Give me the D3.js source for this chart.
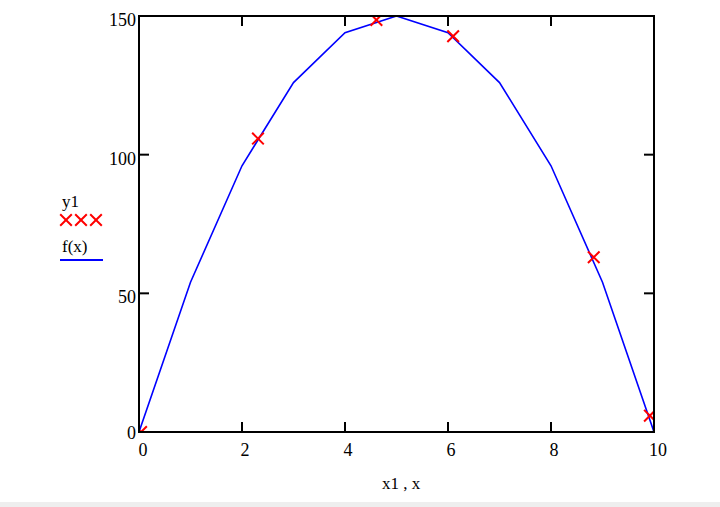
<!DOCTYPE html>
<html><head><meta charset="utf-8">
<script src="https://cdn.jsdelivr.net/npm/d3@7"></script>
<style>
html,body{margin:0;padding:0;background:#fff;}
svg{display:block;}
text{font-family:"Liberation Serif","Times New Roman",serif;fill:#000;}
</style></head>
<body>
<script>
// data
const fx = [0,1,2,3,4,5,6,7,8,9,10];
const fy = [0,54,96,126,144,150,144,126,96,54,0];
const x1 = [0.04,2.31,4.61,6.1,8.83,9.92];
const y1 = [0,105.8,148.6,142.7,63,5.9];
const xTicks = [0,2,4,6,8,10];
const yTicks = [0,50,100,150];
const legendLabels = ["y1","f(x)"];
const xAxisLabel = "x1 , x";

const W=720,H=507;
const svg=d3.select("body").append("svg").attr("width",W).attr("height",H);
svg.append("rect").attr("x",0).attr("y",502).attr("width",W).attr("height",5).attr("fill","#eeeeee");

const L=139,R=654,T=16,B=432;
const x=d3.scaleLinear().domain([0,10]).range([L,R]);
const y=d3.scaleLinear().domain([0,150]).range([B,T]);

svg.append("defs").append("clipPath").attr("id","clip").append("rect")
  .attr("x",L).attr("y",T).attr("width",R-L).attr("height",B-T);

const g=svg.append("g");
const plot=g.append("g").attr("clip-path","url(#clip)");

// f(x) line
const line=d3.line().x((d,i)=>x(fx[i])).y((d,i)=>y(fy[i]));
plot.append("path").datum(fy).attr("d",line).attr("fill","none").attr("stroke","#0000ff").attr("stroke-width",1.6);

// y1 markers
const ms=5.8;
function cross(sel,cx,cy){
  sel.append("path").attr("d",`M${cx-ms},${cy-ms}L${cx+ms},${cy+ms}M${cx-ms},${cy+ms}L${cx+ms},${cy-ms}`)
   .attr("stroke","#ff0000").attr("stroke-width",2).attr("fill","none");
}
x1.forEach((d,i)=>cross(plot,x(d),y(y1[i])));

// frame
g.append("rect").attr("x",L).attr("y",T).attr("width",R-L).attr("height",B-T)
 .attr("fill","none").attr("stroke","#000").attr("stroke-width",2);

// ticks (inward)
const tl=10;
xTicks.filter(d=>d>0&&d<10).forEach(d=>{
  g.append("line").attr("x1",x(d)).attr("x2",x(d)).attr("y1",B).attr("y2",B-tl).attr("stroke","#000").attr("stroke-width",2);
  g.append("line").attr("x1",x(d)).attr("x2",x(d)).attr("y1",T).attr("y2",T+tl).attr("stroke","#000").attr("stroke-width",2);
});
yTicks.filter(d=>d>0&&d<150).forEach(d=>{
  g.append("line").attr("x1",L).attr("x2",L+tl).attr("y1",y(d)).attr("y2",y(d)).attr("stroke","#000").attr("stroke-width",2);
  g.append("line").attr("x1",R).attr("x2",R-tl).attr("y1",y(d)).attr("y2",y(d)).attr("stroke","#000").attr("stroke-width",2);
});

// tick labels
xTicks.forEach(d=>{
  g.append("text").attr("x",x(d)+ (d===0?4:(d===10?4:3))).attr("y",B+24).attr("text-anchor","middle")
   .attr("font-size",18).text(d);
});
yTicks.forEach(d=>{
  g.append("text").attr("x",L-3).attr("y",d===0?B+7:y(d)+10).attr("text-anchor","end")
   .attr("font-size",18).text(d);
});
// x axis label
g.append("text").attr("x",401).attr("y",489).attr("text-anchor","middle").attr("font-size",17)
 .attr("xml:space","preserve").text(xAxisLabel);

// legend
g.append("text").attr("x",62).attr("y",207).attr("font-size",17).text(legendLabels[0]);
[66,81,96].forEach(cx=>cross(g,cx,220));
g.append("text").attr("x",62).attr("y",252).attr("font-size",17).text(legendLabels[1]);
g.append("line").attr("x1",60).attr("x2",103).attr("y1",260).attr("y2",260).attr("stroke","#0000ff").attr("stroke-width",2);
</script>
</body></html>
